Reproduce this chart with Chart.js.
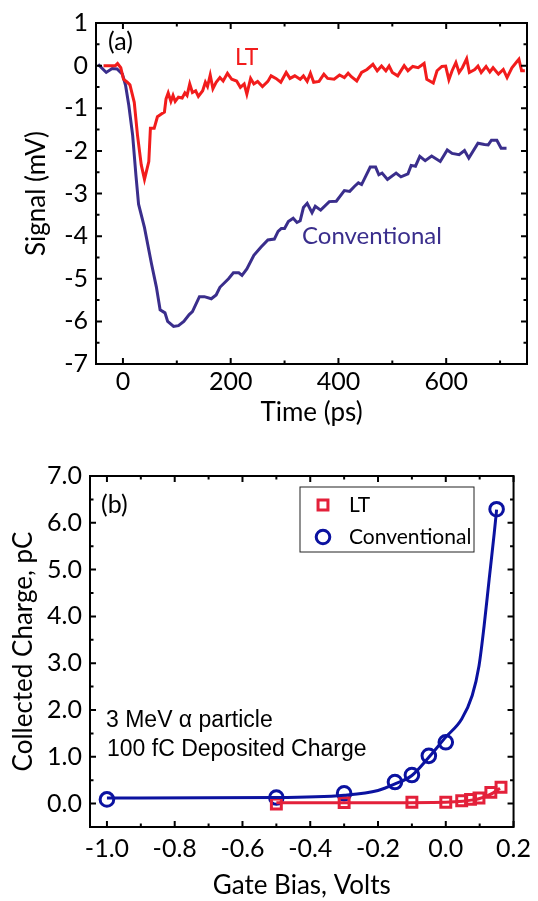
<!DOCTYPE html>
<html>
<head>
<meta charset="utf-8">
<script src="https://cdn.jsdelivr.net/npm/chart.js@4.4.0/dist/chart.umd.min.js"></script>
<style>
  html, body { margin: 0; padding: 0; background: #fff; }
  #wrap { position: relative; width: 538px; height: 901px; }
  #topChart { position: absolute; left: 0; top: 0; }
  #bottomChart { position: absolute; left: 0; top: 440px; }
</style>
</head>
<body>
<div id="wrap">
  <canvas id="topChart" width="538" height="440"></canvas>
  <canvas id="bottomChart" width="538" height="461"></canvas>
</div>
<script>
// ---- panel (a): signal transients ----
const ltTime = [-36,-14,-10,-4,1,8,13,21,27,34,40,48,51,58,64,72,77,80,84,89,93,97,103,110,115,119,124,129,135,140,148,153,157,162,167,173,180,186,194,202,211,218,225,230,237,243,250,259,269,275,284,293,303,310,319,329,335,342,348,354,364,373,380,392,402,411,418,424,434,443,453,464,472,480,488,494,500,510,522,529,538,548,559,564,576,583,592,599,605,611,618,624,630,638,643,653,659,665,674,681,687,697,706,713,722,731,735,740,746];
const ltSignal = [0.0,0.0,0.05,-0.05,-0.32,-0.39,-0.45,-0.86,-1.63,-2.33,-2.67,-2.25,-1.47,-1.47,-1.2,-1.13,-1.09,-0.78,-0.64,-0.84,-0.7,-0.84,-0.74,-0.76,-0.64,-0.7,-0.43,-0.63,-0.59,-0.72,-0.59,-0.39,-0.49,-0.22,-0.54,-0.39,-0.28,-0.36,-0.18,-0.32,-0.36,-0.51,-0.43,-0.67,-0.3,-0.43,-0.37,-0.49,-0.37,-0.24,-0.3,-0.39,-0.16,-0.3,-0.24,-0.32,-0.24,-0.37,-0.18,-0.39,-0.37,-0.2,-0.3,-0.32,-0.22,-0.28,-0.18,-0.26,-0.36,-0.16,-0.09,0.03,-0.12,-0.01,-0.12,-0.01,-0.16,-0.24,0.0,-0.12,-0.02,-0.05,0.05,-0.32,-0.41,-0.12,-0.02,-0.01,-0.33,-0.12,0.07,-0.16,-0.05,0.16,-0.16,-0.09,-0.01,-0.16,-0.02,-0.15,-0.05,-0.2,-0.09,-0.28,-0.05,0.09,0.15,-0.12,-0.12];

const convTime = [-46,-31,-20,-11,-1,5,11,18,24,29,40,53,62,69,78,83,94,103,113,123,129,142,151,164,173,180,196,205,215,221,230,243,256,269,281,288,294,300,307,316,323,329,335,342,351,357,367,383,396,411,421,430,437,443,459,469,475,481,491,507,516,529,535,543,551,561,573,589,602,611,624,634,642,659,671,678,684,694,702,712];
const convSignal = [0.03,-0.16,-0.07,-0.08,-0.2,-0.47,-0.94,-1.63,-2.56,-3.25,-3.8,-4.65,-5.19,-5.73,-5.8,-6.0,-6.12,-6.1,-6.0,-5.84,-5.77,-5.42,-5.42,-5.47,-5.38,-5.2,-5.0,-4.86,-4.86,-4.92,-4.77,-4.45,-4.26,-4.09,-4.07,-3.89,-3.82,-3.82,-3.66,-3.58,-3.68,-3.64,-3.33,-3.23,-3.45,-3.3,-3.39,-3.19,-3.18,-2.93,-2.95,-2.83,-2.75,-2.79,-2.38,-2.38,-2.56,-2.52,-2.67,-2.52,-2.61,-2.54,-2.34,-2.36,-2.13,-2.23,-2.12,-2.25,-1.98,-2.06,-2.09,-1.99,-2.17,-1.82,-1.85,-1.86,-1.75,-1.75,-1.94,-1.94];

const timeTicks = [0, 200, 400, 600];
const signalTicks = [1, 0, -1, -2, -3, -4, -5, -6, -7];

// ---- panel (b): collected charge vs gate bias ----
const biasLT = [-0.5, -0.3, -0.1, 0.0, 0.047, 0.073, 0.098, 0.133, 0.163];
const chargeLT = [-0.01, 0.02, 0.03, 0.03, 0.06, 0.09, 0.12, 0.24, 0.35];
const biasConv = [-1.0, -0.5, -0.3, -0.15, -0.1, -0.05, 0.0, 0.15];
const chargeConv = [0.09, 0.13, 0.22, 0.46, 0.61, 1.02, 1.31, 6.29];

// fitted curves
const fitLTBias = [-0.5, -0.2, 0.0, 0.05, 0.08, 0.1, 0.12, 0.14, 0.16];
const fitLTCharge = [0.02, 0.02, 0.03, 0.05, 0.08, 0.11, 0.16, 0.23, 0.33];
const fitConvBias = [-1.0, -0.5, -0.3, -0.2, -0.15, -0.1, -0.05, 0.0, 0.047, 0.078, 0.098, 0.113, 0.128, 0.143, 0.15];
const fitConvCharge = [0.12, 0.13, 0.18, 0.28, 0.42, 0.6, 0.99, 1.42, 1.81, 2.31, 2.94, 3.79, 4.79, 5.78, 6.28];

const biasTicks = [-1.0, -0.8, -0.6, -0.4, -0.2, 0.0, 0.2];
const chargeTicks = [0, 1, 2, 3, 4, 5, 6, 7];

const FONT = "Lato, 'Open Sans', sans-serif";
const RED_A = '#f21c1c';
const PURPLE_A = '#3a2e8c';
const RED_B = '#e3203a';
const BLUE_B = '#0b12a0';

Chart.defaults.font.family = FONT;
Chart.defaults.color = '#000';

const toXY = (xs, ys) => xs.map((x, i) => ({ x: x, y: ys[i] }));

// minor ticks sit halfway between the major ones
function minorsOf(scale, majors) {
    const step = majors[1] - majors[0];
    const out = [];
    const lo = Math.min(scale.min, scale.max), hi = Math.max(scale.min, scale.max);
    const all = [majors[0] - step].concat(majors);
    all.forEach(v => {
        const m = v + step / 2;
        if (m >= lo - 1e-9 && m <= hi + 1e-9) out.push(m);
    });
    return out;
}

// box frame with inward ticks on all four sides, plus text notes
const framePlugin = {
    id: 'frame',
    afterDraw(chart, args, opts) {
        const { ctx, chartArea: a, scales } = chart;
        const x = scales.x, y = scales.y;
        const xMaj = x.ticks.map(t => t.value);
        const yMaj = y.ticks.map(t => t.value);
        ctx.save();
        ctx.strokeStyle = '#000';
        ctx.lineWidth = 2;
        ctx.lineCap = 'butt';
        ctx.beginPath();
        const tick = (vals, len) => {
            vals.forEach(v => {
                const px = x.getPixelForValue(v);
                ctx.moveTo(px, a.bottom); ctx.lineTo(px, a.bottom - len);
                ctx.moveTo(px, a.top); ctx.lineTo(px, a.top + len);
            });
        };
        const tickY = (vals, len) => {
            vals.forEach(v => {
                const py = y.getPixelForValue(v);
                ctx.moveTo(a.left, py); ctx.lineTo(a.left + len, py);
                ctx.moveTo(a.right, py); ctx.lineTo(a.right - len, py);
            });
        };
        tick(xMaj, 6); tick(minorsOf(x, xMaj), 3.5);
        tickY(yMaj, 6); tickY(minorsOf(y, yMaj.slice().sort((p, q) => p - q)), 3.5);
        ctx.stroke();
        ctx.strokeRect(a.left, a.top, a.right - a.left, a.bottom - a.top);

        (opts.notes || []).forEach(n => {
            ctx.font = n.font;
            ctx.fillStyle = n.color || '#000';
            ctx.textBaseline = 'middle';
            ctx.textAlign = 'left';
            ctx.fillText(n.text, n.x, n.y);
        });

        if (opts.legend) {
            const L = opts.legend;
            ctx.lineWidth = 1;
            ctx.strokeStyle = '#222';
            ctx.strokeRect(L.x, L.y, L.w, L.h);
            L.items.forEach(it => {
                const ds = chart.data.datasets[it.dataset];
                ctx.lineWidth = ds.borderWidth;
                ctx.strokeStyle = ds.borderColor;
                ctx.beginPath();
                if (ds.pointStyle === 'rect') {
                    const s = ds.pointRadius * Math.SQRT1_2;
                    ctx.rect(L.markX - s, it.y - s, 2 * s, 2 * s);
                } else {
                    ctx.arc(L.markX, it.y, ds.pointRadius, 0, Math.PI * 2);
                }
                ctx.stroke();
                ctx.font = L.font;
                ctx.fillStyle = '#000';
                ctx.textBaseline = 'middle';
                ctx.textAlign = 'left';
                ctx.fillText(ds.label, L.textX, it.y);
            });
        }
        ctx.restore();
    }
};

new Chart(document.getElementById('topChart'), {
    type: 'scatter',
    data: {
        datasets: [
            {
                label: 'LT',
                data: toXY(ltTime, ltSignal),
                showLine: true,
                borderColor: RED_A,
                borderWidth: 3,
                pointRadius: 0,
                tension: 0
            },
            {
                label: 'Conventional',
                data: toXY(convTime, convSignal),
                showLine: true,
                borderColor: PURPLE_A,
                borderWidth: 3,
                pointRadius: 0,
                tension: 0
            }
        ]
    },
    options: {
        responsive: false,
        animation: false,
        events: [],
        layout: { padding: { left: 0, right: 11, top: 20.5, bottom: 0 } },
        plugins: {
            legend: { display: false },
            tooltip: { enabled: false },
            frame: {
                notes: [
                    { text: '(a)', x: 108, y: 42, font: '25px ' + FONT },
                    { text: 'LT', x: 235, y: 58, font: '23px ' + FONT, color: RED_A },
                    { text: 'Conventional', x: 302, y: 236, font: '24px ' + FONT, color: PURPLE_A }
                ]
            }
        },
        scales: {
            x: {
                type: 'linear',
                min: -50,
                max: 750,
                afterBuildTicks: s => { s.ticks = timeTicks.map(v => ({ value: v })); },
                afterFit: s => { s.height = 76; },
                grid: { display: false, drawTicks: false },
                border: { display: false },
                ticks: { font: { size: 25 }, padding: 3, maxRotation: 0, color: '#000' },
                title: { display: true, text: 'Time (ps)', font: { size: 26 }, padding: { top: 0, bottom: 12 }, color: '#000' }
            },
            y: {
                type: 'linear',
                min: -7,
                max: 1,
                afterBuildTicks: s => { s.ticks = signalTicks.map(v => ({ value: v })); },
                afterFit: s => { s.width = 96; },
                grid: { display: false, drawTicks: false },
                border: { display: false },
                ticks: { font: { size: 25 }, padding: 8, color: '#000' },
                title: { display: true, text: 'Signal (mV)', font: { size: 26 }, padding: { top: 21, bottom: 0 }, color: '#000' }
            }
        }
    },
    plugins: [framePlugin]
});

new Chart(document.getElementById('bottomChart'), {
    type: 'scatter',
    data: {
        datasets: [
            {
                label: 'LT fit',
                data: toXY(fitLTBias, fitLTCharge),
                showLine: true,
                borderColor: RED_B,
                borderWidth: 3,
                pointRadius: 0,
                cubicInterpolationMode: 'monotone'
            },
            {
                label: 'Conventional fit',
                data: toXY(fitConvBias, fitConvCharge),
                showLine: true,
                borderColor: BLUE_B,
                borderWidth: 3,
                pointRadius: 0,
                cubicInterpolationMode: 'monotone'
            },
            {
                label: 'LT',
                data: toXY(biasLT, chargeLT),
                showLine: false,
                pointStyle: 'rect',
                pointRadius: 7,
                borderWidth: 3,
                borderColor: RED_B,
                backgroundColor: 'rgba(0,0,0,0)'
            },
            {
                label: 'Conventional',
                data: toXY(biasConv, chargeConv),
                showLine: false,
                pointStyle: 'circle',
                pointRadius: 6.8,
                borderWidth: 3,
                borderColor: BLUE_B,
                backgroundColor: 'rgba(0,0,0,0)'
            }
        ]
    },
    options: {
        responsive: false,
        animation: false,
        events: [],
        layout: { padding: { left: 0, right: 18, top: 36, bottom: 0 } },
        plugins: {
            legend: { display: false },
            tooltip: { enabled: false },
            frame: {
                notes: [
                    { text: '(b)', x: 101, y: 65, font: '25px ' + FONT },
                    { text: '3 MeV \u03b1 particle', x: 106, y: 281, font: "23px 'Liberation Sans', Arial, sans-serif" },
                    { text: '100 fC Deposited Charge', x: 107, y: 310, font: "23px 'Liberation Sans', Arial, sans-serif" }
                ],
                legend: {
                    x: 300, y: 47, w: 174, h: 65,
                    markX: 323, textX: 349,
                    font: '21px ' + FONT,
                    items: [ { dataset: 2, y: 65 }, { dataset: 3, y: 97 } ]
                }
            }
        },
        scales: {
            x: {
                type: 'linear',
                min: -1.05,
                max: 0.2,
                afterBuildTicks: s => { s.ticks = biasTicks.map(v => ({ value: v })); },
                afterFit: s => { s.height = 74; },
                grid: { display: false, drawTicks: false },
                border: { display: false },
                ticks: { font: { size: 25 }, padding: 7, maxRotation: 0, color: '#000', callback: v => Number(v).toFixed(1) },
                title: { display: true, text: 'Gate Bias, Volts', font: { size: 26 }, padding: { top: 0, bottom: 0 }, color: '#000' }
            },
            y: {
                type: 'linear',
                min: -0.5,
                max: 7.0,
                afterBuildTicks: s => { s.ticks = chargeTicks.map(v => ({ value: v })); },
                afterFit: s => { s.width = 90; },
                grid: { display: false, drawTicks: false },
                border: { display: false },
                ticks: { font: { size: 25 }, padding: 8, color: '#000', callback: v => Number(v).toFixed(1) },
                title: { display: true, text: 'Collected Charge, pC', font: { size: 26 }, padding: { top: 8, bottom: 0 }, color: '#000' }
            }
        }
    },
    plugins: [framePlugin]
});
</script>
</body>
</html>
